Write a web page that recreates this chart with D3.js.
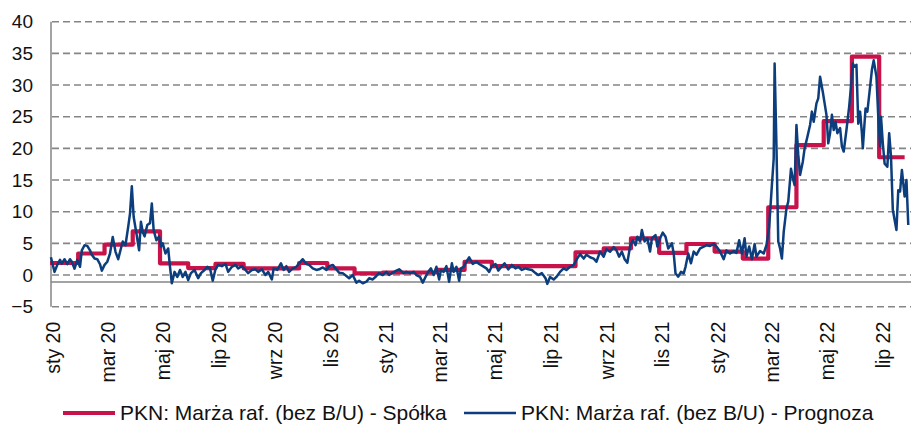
<!DOCTYPE html>
<html>
<head>
<meta charset="utf-8">
<script src="https://cdn.jsdelivr.net/npm/d3@7"></script>
<style>
  body { margin: 0; background: #fff; }
  svg { display: block; font-family: Arial, "Liberation Sans", sans-serif; }
</style>
</head>
<body>
<svg id="chart" width="911" height="428"></svg>
<script>
// --- data ---
const startDate = new Date(2020, 0, 1)
    , endDate = new Date(2022, 7, 5)
    ;

// Spółka: monthly values, first value = sty 20
const redValues = [1.9, 3.4, 4.8, 6.9, 1.85, 1.1, 1.75, 1.05, 1.05, 1.9, 1.05, 0.25,
                   0.4, 0.4, 0.8, 2.1, 1.4, 1.4, 1.4, 3.6, 4.2, 5.8, 3.5, 4.9,
                   3.7, 2.6, 10.7, 20.5, 24.3, 34.5, 18.6];
const redEnd = new Date(2022, 6, 29);

// Prognoza: day offset from 1 Jan 2020, value
const blueDays = [1, 5, 8, 11, 13, 16, 19, 22, 24, 27, 30, 33, 35, 38, 41, 44, 46, 49, 52, 55,
  57, 60, 63, 66, 69, 72, 75, 78, 80, 83, 86, 88, 90, 92, 95, 98, 100, 102, 104, 107,
  110, 112, 114, 117, 120, 122, 124, 127, 130, 132, 134, 137, 140, 143, 146, 149, 152, 155, 159, 163,
  166, 170, 173, 176, 179, 182, 185, 189, 193, 196, 200, 204, 207, 211, 215, 218, 222, 226, 229, 233,
  237, 240, 244, 246, 250, 254, 257, 260, 263, 267, 271, 274, 278, 282, 285, 289, 293, 296, 300, 304,
  307, 311, 315, 318, 322, 326, 329, 333, 337, 340, 344, 348, 351, 355, 359, 362, 366, 370, 373, 377,
  381, 384, 389, 392, 396, 400, 403, 407, 410, 413, 416, 419, 422, 425, 428, 430, 433, 436, 439, 442,
  444, 447, 450, 452, 455, 458, 461, 465, 469, 472, 476, 480, 483, 486, 490, 493, 497, 500, 504, 508,
  512, 515, 519, 523, 526, 530, 534, 537, 541, 545, 547, 550, 554, 557, 561, 565, 568, 572, 576, 579,
  583, 587, 590, 594, 598, 601, 605, 609, 612, 616, 620, 623, 626, 629, 632, 635, 638, 641, 644, 646,
  649, 651, 654, 657, 660, 662, 666, 668, 671, 674, 677, 680, 684, 686, 688, 691, 694, 697, 699, 702,
  705, 708, 711, 715, 719, 722, 726, 730, 733, 737, 741, 744, 748, 752, 755, 758, 761, 764, 766, 769,
  772, 775, 777, 781, 785, 788, 791, 794, 796, 797, 799, 801, 803, 805, 807, 810, 812, 815, 817, 819,
  821, 823, 825, 828, 830, 833, 836, 838, 840, 843, 845, 847, 850, 852, 854, 856, 858, 860, 862, 864,
  866, 869, 871, 873, 876, 879, 881, 883, 885, 887, 889, 891, 893, 894, 897, 899, 902, 904, 906, 909,
  911, 913, 914, 916, 918, 921, 923, 925, 927, 929, 931, 933, 935, 937, 940, 942, 944];
const blueValues = [2.8, 0.5, 1.6, 2.4, 1.8, 2.5, 1.7, 2.5, 2.1, 1.0, 2.4, 1.3, 3.9, 4.7, 4.6, 3.9, 3.2, 2.6, 2.5, 1.7,
  0.7, 1.6, 2.1, 3.4, 6.0, 3.7, 2.5, 4.2, 5.3, 4.7, 7.6, 9.7, 14.0, 9.2, 6.6, 3.9, 8.4, 6.8, 6.1, 7.9,
  8.2, 11.3, 7.1, 5.5, 6.1, 4.5, 5.0, 3.4, 4.2, 1.3, -1.3, 0.5, -0.3, 0.8, -0.3, 0.5, -0.8, 0.3, 0.8, -0.5,
  0.3, 0.8, 1.3, 1.05, -0.9, 0.9, 1.6, 1.4, 1.75, 0.5, 1.3, 1.6, 1.05, 1.4, 0.8, 0.3, 0.8, 0.9, 0.5, 0.9,
  0.0, 0.5, -0.7, 1.05, 0.8, 1.85, 0.8, 1.4, 0.5, 1.05, 1.3, 1.85, 2.5, 1.75, 1.6, 1.05, 0.8, 0.9, 1.2, 0.8,
  1.4, 1.6, 0.9, 0.37, 0.3, -0.15, -0.5, 0.0, -1.2, -0.9, -1.3, -1.05, -0.5, -0.7, -0.15, 0.3, 0.0, 0.5, 0.0, 0.37,
  0.7, 0.9, 0.3, 0.5, 0.3, 0.5, 0.0, -0.3, -1.2, -0.3, 0.5, 1.05, 0.0, 1.3, -0.7, 0.8, 0.5, 1.4, -1.05, 1.85,
  0.5, 1.3, -0.9, 1.05, 1.3, 2.1, 2.8, 1.75, 2.1, 1.75, 1.4, 1.05, 0.5, 1.4, 1.75, 0.7, 1.4, 1.85, 0.9, 1.6,
  1.05, 1.3, 0.8, 1.05, 0.9, 0.8, 0.3, 0.0, 0.3, -0.5, -1.4, -0.3, -0.7, -0.3, 0.5, 1.05, 0.8, 1.3, 1.6, 2.4,
  3.3, 2.6, 3.2, 2.8, 2.6, 2.1, 3.7, 2.9, 4.05, 3.7, 4.4, 3.9, 2.9, 3.7, 2.5, 1.95, 4.5, 5.5, 4.7, 6.05,
  5.3, 7.1, 5.3, 5.8, 3.7, 5.8, 6.3, 4.5, 5.8, 6.7, 6.05, 4.2, 5.0, 3.4, 0.25, -0.25, 0.5, 0.25, 1.3, 3.4,
  1.85, 3.7, 3.2, 4.2, 4.5, 4.7, 4.6, 4.9, 4.5, 3.7, 2.5, 3.9, 3.4, 3.8, 3.5, 5.5, 3.4, 5.8, 2.9, 4.5,
  2.5, 4.9, 2.9, 3.8, 3.4, 4.7, 7.6, 14.2, 18.4, 33.4, 20.5, 5.3, 4.2, 2.6, 6.8, 10.5, 11.6, 16.8, 15.3, 14.2,
  23.7, 19.0, 15.8, 17.9, 20.0, 21.8, 23.7, 25.8, 24.2, 27.1, 27.9, 31.3, 28.9, 27.1, 25.3, 20.8, 22.4, 25.3, 22.9, 24.2,
  22.4, 23.2, 20.3, 19.5, 22.9, 26.6, 29.7, 33.4, 32.9, 33.2, 23.9, 25.8, 22.4, 20.0, 26.3, 25.8, 29.7, 32.4, 33.9, 31.3,
  25.0, 20.3, 25.0, 20.8, 17.6, 17.1, 22.4, 18.7, 10.3, 8.7, 7.1, 13.4, 13.2, 16.6, 12.4, 15.0, 7.9];

const yTicks = [-5, 0, 5, 10, 15, 20, 25, 30, 35, 40];
const monthNames = ['sty', 'lut', 'mar', 'kwi', 'maj', 'cze', 'lip', 'sie', 'wrz', 'paź', 'lis', 'gru'];
const legendLabels = ['PKN: Marża raf. (bez B/U) - Spółka', 'PKN: Marża raf. (bez B/U) - Prognoza'];
const axisCross = -1.1;

// --- layout ---
const plotLeft = 50
    , plotRight = 911
    , plotTop = 21.7
    , plotBottom = 306.7
    , redColor = '#c8124a'
    , blueColor = '#0c3d7c'
    , gridColor = '#858585'
    ;

const svg = d3.select('#chart');

const x = d3.scaleTime().domain([startDate, endDate]).range([plotLeft, plotRight]);
const y = d3.scaleLinear().domain([-5, 40]).range([plotBottom, plotTop]);

// gridlines
svg.append('g')
  .selectAll('line')
  .data(yTicks)
  .join('line')
    .attr('x1', plotLeft + 2)
    .attr('x2', plotRight)
    .attr('y1', d => y(d))
    .attr('y2', d => y(d))
    .attr('stroke', gridColor)
    .attr('stroke-width', 1.6)
    .attr('stroke-dasharray', '7,4');

// y axis line + category axis line
svg.append('line')
  .attr('x1', plotLeft + 1).attr('x2', plotLeft + 1)
  .attr('y1', y(40)).attr('y2', y(-5))
  .attr('stroke', gridColor).attr('stroke-width', 1.5);

svg.append('line')
  .attr('x1', plotLeft + 1).attr('x2', plotRight)
  .attr('y1', y(axisCross)).attr('y2', y(axisCross))
  .attr('stroke', gridColor).attr('stroke-width', 1.5);

// y labels
const yAxis = svg.append('g')
  .attr('transform', `translate(${plotLeft},0)`)
  .call(d3.axisLeft(y).tickValues(yTicks).tickSize(0).tickPadding(17).tickFormat(d3.format('d')));
yAxis.select('.domain').remove();
yAxis.selectAll('text')
  .attr('font-size', 19)
  .attr('font-family', 'Arial, "Liberation Sans", sans-serif')
  .attr('fill', '#111');

// x labels
const xTicks = d3.timeMonth.every(2).range(startDate, endDate);
const xAxis = svg.append('g')
  .attr('transform', `translate(3,${plotBottom + 15})`)
  .call(d3.axisBottom(x).tickValues(xTicks).tickSize(0)
    .tickFormat(d => `${monthNames[d.getMonth()]} ${String(d.getFullYear()).slice(2)}`));
xAxis.select('.domain').remove();
xAxis.selectAll('text')
  .attr('font-size', 19.5)
  .attr('font-family', 'Arial, "Liberation Sans", sans-serif')
  .attr('fill', '#111')
  .attr('text-anchor', 'end')
  .attr('transform', 'rotate(-90)')
  .attr('x', 0)
  .attr('y', 0)
  .attr('dy', '0.35em');

// red step series
const redData = redValues.map((v, i) => ({ date: new Date(2020, i, 1), value: v }));
redData.push({ date: redEnd, value: redValues[redValues.length - 1] });

svg.append('path')
  .datum(redData)
  .attr('fill', 'none')
  .attr('stroke', redColor)
  .attr('stroke-width', 4.2)
  .attr('stroke-linejoin', 'round')
  .attr('d', d3.line().curve(d3.curveStepAfter).x(d => x(d.date)).y(d => y(d.value)));

// blue series
const blueData = blueDays.map((d, i) => ({ date: d3.timeDay.offset(startDate, d), value: blueValues[i] }));

svg.append('path')
  .datum(blueData)
  .attr('fill', 'none')
  .attr('stroke', blueColor)
  .attr('stroke-width', 2.5)
  .attr('stroke-linejoin', 'round')
  .attr('d', d3.line().x(d => x(d.date)).y(d => y(d.value)));

// legend
const legend = svg.append('g').attr('transform', 'translate(0,413)');
const legendItems = [
  { x: 63, color: redColor, width: 4.2, label: legendLabels[0] },
  { x: 464, color: blueColor, width: 2.5, label: legendLabels[1] }
];
legendItems.forEach(it => {
  legend.append('line')
    .attr('x1', it.x).attr('x2', it.x + 52)
    .attr('y1', 0).attr('y2', 0)
    .attr('stroke', it.color).attr('stroke-width', it.width);
  legend.append('text')
    .attr('x', it.x + 57)
    .attr('y', 0)
    .attr('dy', '0.35em')
    .attr('font-size', 21)
    .attr('fill', '#111')
    .text(it.label);
});
</script>
</body>
</html>
